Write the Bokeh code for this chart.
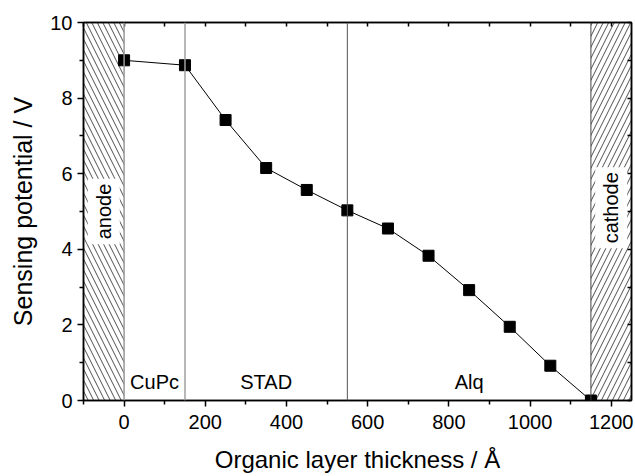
import math
from bokeh.plotting import figure
from bokeh.models import LinearAxis, FixedTicker, Span, Label, Range1d
from bokeh.embed import file_html
from bokeh.resources import INLINE

thickness = [0, 150, 250, 350, 450, 550, 650, 750, 850, 950, 1050, 1150]
potential = [9.0, 8.87, 7.42, 6.15, 5.57, 5.03, 4.55, 3.83, 2.92, 1.95, 0.92, 0.0]

x_major = [0, 200, 400, 600, 800, 1000, 1200]
x_minor = [-100, 100, 300, 500, 700, 900, 1100]
x_all = [-100, 0, 100, 200, 300, 400, 500, 600, 700, 800, 900, 1000, 1100, 1200]
y_major = [0, 2, 4, 6, 8, 10]
y_minor = [1, 3, 5, 7, 9]
y_all = [0, 1, 2, 3, 4, 5, 6, 7, 8, 9, 10]

layer_bounds = [150, 550]
layer_names = ["CuPc", "STAD", "Alq"]
layer_label_x = [75, 350, 850]
layer_label_y = 0.5

electrode_names = ["anode", "cathode"]
electrode_left = [-100, 1150]
electrode_right = [0, 1250]
electrode_hatch = ["left_diagonal_line", "right_diagonal_line"]
electrode_label_y = [5.0, 5.1]

FONT = "Liberation Sans"

p = figure(width=635, height=476, x_range=Range1d(-100, 1250), y_range=Range1d(0, 10),
           output_backend="svg", toolbar_location=None,
           min_border_left=83, min_border_right=4, min_border_top=22, min_border_bottom=76)
p.background_fill_color = "white"
p.border_fill_color = "white"
p.outline_line_color = "black"
p.outline_line_width = 1.5
p.xgrid.visible = False
p.ygrid.visible = False

# electrode regions
for i in range(2):
    p.quad(left=[electrode_left[i]], right=[electrode_right[i]], bottom=[0], top=[10],
           fill_color=None, line_color=None,
           hatch_pattern=electrode_hatch[i], hatch_color="#3a3a3a",
           hatch_weight=0.9, hatch_scale=11)

p.add_layout(Span(location=0, dimension="height", line_color="#999999", line_width=1.5))
p.add_layout(Span(location=electrode_left[1], dimension="height", line_color="#444444", line_width=1))
p.add_layout(Span(location=layer_bounds[0], dimension="height", line_color="#a0a0a0", line_width=1.5))
p.add_layout(Span(location=layer_bounds[1], dimension="height", line_color="#555555", line_width=1))

for i, name in enumerate(electrode_names):
    xc = (electrode_left[i] + electrode_right[i]) / 2
    p.add_layout(Label(x=xc, y=electrode_label_y[i], text=name, angle=math.pi / 2,
                       text_align="center", text_baseline="middle",
                       text_font=FONT, text_font_size="20px", text_color="black",
                       background_fill_color="white", padding=5))

for name, lx in zip(layer_names, layer_label_x):
    p.add_layout(Label(x=lx, y=layer_label_y, text=name, text_align="center",
                       text_baseline="middle", text_font=FONT, text_font_size="20px",
                       text_color="black"))

p.line(thickness, potential, line_color="black", line_width=1)
p.scatter(thickness, potential, marker="square", size=11, fill_color="black", line_color="black")

# bottom / left axes
xa = p.xaxis[0]
xa.ticker = FixedTicker(ticks=x_major, minor_ticks=x_minor)
ya = p.yaxis[0]
ya.ticker = FixedTicker(ticks=y_major, minor_ticks=y_minor)
for ax in (xa, ya):
    ax.axis_line_width = 1.5
    ax.major_tick_line_width = 1.5
    ax.minor_tick_line_width = 1.5
    ax.major_tick_in = 0
    ax.major_tick_out = 6
    ax.minor_tick_in = 0
    ax.minor_tick_out = 4
    ax.major_label_text_font = FONT
    ax.major_label_text_font_size = "20px"
    ax.major_label_text_color = "black"
    ax.axis_label_text_font = FONT
    ax.axis_label_text_font_size = "24px"
    ax.axis_label_text_font_style = "normal"
    ax.axis_label_text_color = "black"
xa.axis_label = "Organic layer thickness / Å"
ya.axis_label = "Sensing potential / V"
ya.axis_label_text_font_size = "25px"
xa.major_label_standoff = 8
ya.major_label_standoff = 5
xa.axis_label_standoff = 14
ya.axis_label_standoff = 10

# top / right axes with inward ticks, no labels
top = LinearAxis(ticker=FixedTicker(ticks=x_all))
right = LinearAxis(ticker=FixedTicker(ticks=y_all))
for ax in (top, right):
    ax.major_label_text_color = None
    ax.major_label_text_font_size = "1px"
    ax.major_label_standoff = 0
    ax.axis_line_width = 1.5
    ax.major_tick_line_width = 1.5
    ax.major_tick_in = 4
    ax.major_tick_out = 0
    ax.minor_tick_line_color = None
p.add_layout(top, "above")
p.add_layout(right, "right")

open("out.html", "w").write(file_html(p, INLINE))
